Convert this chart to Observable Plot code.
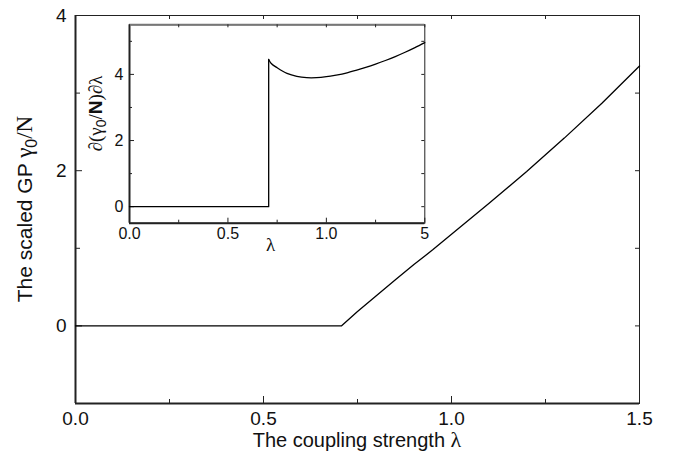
<!DOCTYPE html>
<html><head><meta charset="utf-8">
<script src="https://cdn.jsdelivr.net/npm/d3@7"></script>
<script src="https://cdn.jsdelivr.net/npm/@observablehq/plot@0.6"></script>
<style>
body{margin:0;background:#fff;}
#wrap{position:relative;width:680px;height:460px;}
#inset{position:absolute;left:80px;top:10px;}
</style></head><body><div id="wrap"><div id="main"></div><div id="inset"></div></div>
<script>
// Main curve: scaled GP vs coupling strength
const mainLambda = [0, 0.707, 0.75, 0.8, 0.85, 0.9, 0.95, 1.0, 1.1, 1.2, 1.3, 1.4, 1.5];
const mainGamma  = [0, 0, 0.186, 0.39, 0.59, 0.79, 0.98, 1.18, 1.58, 1.99, 2.42, 2.87, 3.35];
// Inset: derivative
const insetStepLambda = [0, 0.707, 0.707];
const insetStepDeriv  = [0, 0, 4.45];
const insetLambda = [0.707, 0.72, 0.75, 0.8, 0.85, 0.9, 0.95, 1.0, 1.05, 1.1, 1.15, 1.2, 1.25, 1.3, 1.35, 1.4, 1.45, 1.5];
const insetDeriv  = [4.45, 4.33, 4.2, 4.03, 3.94, 3.9, 3.9, 3.93, 3.98, 4.04, 4.12, 4.21, 4.31, 4.42, 4.54, 4.67, 4.81, 4.96];
// Ticks
const mainXTicks = [0, 0.5, 1.0, 1.5];
const mainXTickLabels = ["0.0", "0.5", "1.0", "1.5"];
const mainXMinor = [0.25, 0.75, 1.25];
const mainYTicks = [0, 2, 4];
const mainYTickLabels = ["0", "2", "4"];
const mainYMinor = [1, 3];
const insetXTicks = [0, 0.5, 1.0, 1.5];
const insetXTickLabels = ["0.0", "0.5", "1.0", "5"];
const insetXMinor = [0.25, 0.75, 1.25];
const insetYTicks = [0, 2, 4];
const insetYTickLabels = ["0", "2", "4"];
const insetYMinor = [1, 3, 5];

const FONT = "'Liberation Sans', Arial, Helvetica, sans-serif";
const SERIF = "'Liberation Serif', 'Times New Roman', serif";
const AX = "#222";

// ---------- main ----------
const W = 680, H = 460, mL = 75, mR = 41, mT = 15, mB = 57;
const iW = W - mL - mR, iH = H - mT - mB;
const mainData = mainLambda.map((x, i) => ({x, y: mainGamma[i]}));
const main = Plot.plot({
  width: W, height: H, marginLeft: mL, marginRight: mR, marginTop: mT, marginBottom: mB,
  style: {fontFamily: FONT, background: "white", color: "#111"},
  x: {domain: [0, 1.5]},
  y: {domain: [-1, 4]},
  marks: [
    Plot.frame({stroke: AX, strokeWidth: 1}),
    Plot.ruleY([-1], {stroke: AX, strokeWidth: 2}),
    Plot.ruleX([0], {stroke: AX, strokeWidth: 2}),
    Plot.ruleX(mainXTicks, {stroke: AX, insetTop: iH - 7}),
    Plot.ruleX(mainXMinor, {stroke: AX, insetTop: iH - 4}),
    Plot.ruleX(mainXTicks.concat(mainXMinor), {stroke: AX, insetBottom: iH - 4}),
    Plot.ruleY(mainYTicks, {stroke: AX, insetRight: iW - 7}),
    Plot.ruleY(mainYMinor, {stroke: AX, insetRight: iW - 5}),
    Plot.ruleY(mainYTicks.concat(mainYMinor), {stroke: AX, insetLeft: iW - 4}),
    Plot.axisX(mainXTicks, {tickSize: 0, tickPadding: 8, fontSize: 19, label: null,
      tickFormat: d => mainXTickLabels[mainXTicks.indexOf(d)]}),
    Plot.axisY(mainYTicks, {tickSize: 0, tickPadding: 9, fontSize: 19, label: null,
      tickFormat: d => mainYTickLabels[mainYTicks.indexOf(d)]}),
    Plot.line(mainData, {x: "x", y: "y", stroke: "black", strokeWidth: 1.3})
  ]
});
document.getElementById("main").appendChild(main);
{
  const svg = d3.select(main);
  const xl = svg.append("text")
    .attr("x", mL + iW / 2).attr("y", 447)
    .attr("text-anchor", "middle").attr("font-size", 20).attr("font-family", FONT).attr("fill", "#111");
  xl.append("tspan").text("The coupling strength ");
  xl.append("tspan").attr("font-family", SERIF).attr("font-size", 22).text("λ");

  const yl = svg.append("text")
    .attr("transform", `translate(32,${mT + iH / 2}) rotate(-90)`)
    .attr("text-anchor", "middle").attr("font-size", 21).attr("font-family", FONT).attr("fill", "#111");
  yl.append("tspan").text("The scaled GP ");
  yl.append("tspan").attr("font-family", SERIF).attr("font-size", 23).text("γ");
  yl.append("tspan").attr("font-size", 16).attr("dy", 5).text("0");
  yl.append("tspan").attr("font-family", SERIF).attr("font-size", 23).attr("dy", -5).text("/N");
}

// ---------- inset ----------
const W2 = 360, H2 = 250, mL2 = 49, mT2 = 14.3, mR2 = 15.7, mB2 = 37.3;
const iW2 = W2 - mL2 - mR2, iH2 = H2 - mT2 - mB2;
const stepData = insetStepLambda.map((x, i) => ({x, y: insetStepDeriv[i]}));
const curveData = insetLambda.map((x, i) => ({x, y: insetDeriv[i]}));
const inset = Plot.plot({
  width: W2, height: H2, marginLeft: mL2, marginRight: mR2, marginTop: mT2, marginBottom: mB2,
  style: {fontFamily: FONT, background: "transparent", color: "#111"},
  x: {domain: [0, 1.5]},
  y: {domain: [-0.5, 5.5]},
  marks: [
    Plot.frame({stroke: AX, strokeWidth: 1}),
    Plot.ruleY([-0.5], {stroke: AX, strokeWidth: 2}),
    Plot.ruleX([0], {stroke: AX, strokeWidth: 2}),
    Plot.ruleY([5.5], {stroke: "#777", strokeWidth: 2}),
    Plot.ruleX(insetXTicks, {stroke: AX, insetTop: iH2 - 5}),
    Plot.ruleX(insetXMinor, {stroke: AX, insetTop: iH2 - 3}),
    Plot.ruleX(insetXTicks.concat(insetXMinor), {stroke: AX, insetBottom: iH2 - 3}),
    Plot.ruleY(insetYTicks, {stroke: AX, insetRight: iW2 - 5}),
    Plot.ruleY(insetYMinor, {stroke: AX, insetRight: iW2 - 3}),
    Plot.ruleY(insetYTicks.concat(insetYMinor), {stroke: AX, insetLeft: iW2 - 3}),
    Plot.axisX(insetXTicks, {tickSize: 0, tickPadding: 4, fontSize: 16, label: null,
      tickFormat: d => insetXTickLabels[insetXTicks.indexOf(d)]}),
    Plot.axisY(insetYTicks, {tickSize: 0, tickPadding: 6, fontSize: 16, label: null,
      tickFormat: d => insetYTickLabels[insetYTicks.indexOf(d)]}),
    Plot.line(stepData, {x: "x", y: "y", stroke: "black", strokeWidth: 1.3}),
    Plot.line(curveData, {x: "x", y: "y", stroke: "black", strokeWidth: 1.3, curve: "catmull-rom"})
  ]
});
document.getElementById("inset").appendChild(inset);
{
  const svg = d3.select(inset);
  svg.append("text")
    .attr("x", mL2 + iW2 / 2 - 6).attr("y", 241)
    .attr("text-anchor", "middle").attr("font-size", 19).attr("font-family", SERIF).attr("fill", "#111")
    .text("λ");
  const yl = svg.append("text")
    .attr("transform", `translate(22,${mT2 + iH2 / 2 - 10}) rotate(-90)`)
    .attr("text-anchor", "middle").attr("font-size", 19).attr("font-family", SERIF).attr("fill", "#111");
  yl.append("tspan").text("∂(γ");
  yl.append("tspan").attr("font-size", 14).attr("font-family", FONT).attr("dy", 4).text("0");
  yl.append("tspan").attr("dy", -4).text("/");
  yl.append("tspan").attr("font-family", FONT).attr("font-weight", "bold").text("N");
  yl.append("tspan").text(")∂λ");
}
</script></body></html>
